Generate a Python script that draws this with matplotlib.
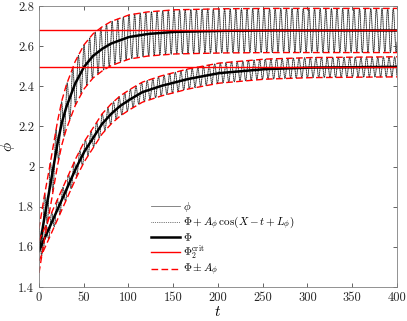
import numpy as np
import matplotlib
matplotlib.use('Agg')
import matplotlib.pyplot as plt

plt.rcParams['font.family'] = 'cmr10'
plt.rcParams['mathtext.fontset'] = 'cm'
plt.rcParams['axes.formatter.use_mathtext'] = True

# mean curves
t_upper = [0, 5, 10, 15, 20, 25, 30, 40, 50, 60, 70, 80, 100, 120, 150, 200, 250, 400]
phi_upper = [1.58, 1.72, 1.84, 1.97, 2.10, 2.21, 2.29, 2.41, 2.495, 2.55, 2.585, 2.612,
             2.645, 2.66, 2.671, 2.676, 2.678, 2.678]
t_lower = [0, 10, 20, 30, 40, 50, 60, 70, 80, 90, 100, 115, 135, 165, 200, 250, 300, 400]
phi_lower = [1.58, 1.68, 1.78, 1.88, 1.98, 2.07, 2.14, 2.21, 2.26, 2.30, 2.33, 2.37,
             2.40, 2.435, 2.465, 2.485, 2.493, 2.497]
amp_upper = 0.11
amp_lower = 0.05
phase_upper = 0.0
phase_lower = 1.5
crit_levels = [2.678, 2.497]

xticks = [0, 50, 100, 150, 200, 250, 300, 350, 400]
yticks = [1.4, 1.6, 1.8, 2.0, 2.2, 2.4, 2.6, 2.8]
ytick_labels = ['1.4', '1.6', '1.8', '2', '2.2', '2.4', '2.6', '2.8']

t = np.linspace(0, 400, 8000)

fig = plt.figure(figsize=(4.07, 3.21), dpi=100)
ax = fig.add_axes([0.0958, 0.1059, 0.8796, 0.8754])

curves = [(t_upper, phi_upper, amp_upper, phase_upper),
          (t_lower, phi_lower, amp_lower, phase_lower)]
for i, (tt, pp, amp, ph) in enumerate(curves):
    mean = np.interp(t, tt, pp)
    osc = mean + amp * np.cos(-t + ph)
    first = i == 0
    ax.plot(t, osc, color='0.45', lw=0.6, label=r'$\phi$' if first else None)
    ax.plot(t, osc, color='k', lw=0.5, ls=':',
            label=r'$\Phi + A_\phi\,\cos(X - t + L_\phi)$' if first else None)
    ax.plot(t, mean, color='k', lw=1.8, label=r'$\Phi$' if first else None)

for j, lvl in enumerate(crit_levels):
    ax.axhline(lvl, color='r', lw=1.0,
               label=r'$\Phi_2^{\rm crit}$' if j == 0 else None)

for i, (tt, pp, amp, ph) in enumerate(curves):
    mean = np.interp(t, tt, pp)
    ax.plot(t, mean + amp, color='r', lw=1.0, dashes=(4.8, 2.4),
            label=r'$\Phi \pm A_\phi$' if i == 0 else None)
    ax.plot(t, mean - amp, color='r', lw=1.0, dashes=(4.8, 2.4))

ax.set_xlim(0, 400)
ax.set_ylim(1.4, 2.8)
ax.set_xticks(xticks)
ax.set_xticklabels([str(x) for x in xticks])
ax.set_yticks(yticks)
ax.set_yticklabels(ytick_labels)
ax.tick_params(direction='in', top=True, right=True, labelsize=9, length=3,
               width=0.5, colors='0.15', labelcolor='0.15')
for s in ax.spines.values():
    s.set_color('0.5')
    s.set_linewidth(0.6)
ax.set_xlabel(r'$t$', fontsize=11, labelpad=1)
ax.set_ylabel(r'$\phi$', fontsize=11, labelpad=1)

leg = ax.legend(loc='lower left', bbox_to_anchor=(0.285, -0.005), frameon=False,
                fontsize=8, handlelength=2.6, handletextpad=0.3, labelspacing=0.05)

fig.savefig('out.png', dpi=100)
